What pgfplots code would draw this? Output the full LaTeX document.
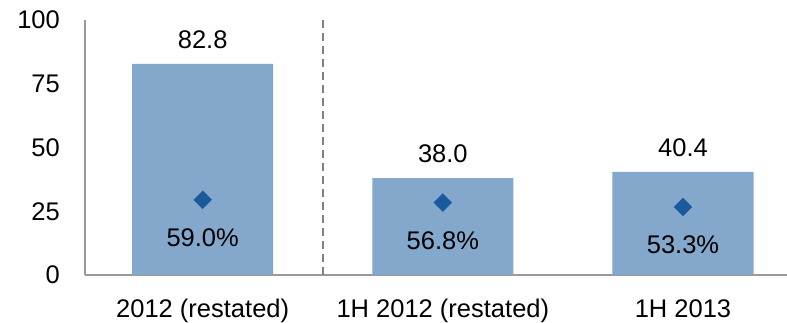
\documentclass[border=0pt]{standalone}
\usepackage{pgfplots}
\pgfplotsset{compat=1.18}
\usepackage{fontspec}
\setmainfont{Liberation Sans}
\definecolor{barblue}{HTML}{84A7CC}
\definecolor{dkblue}{HTML}{1A5A9C}
\definecolor{axgray}{HTML}{9A9A9A}
\definecolor{dashgray}{HTML}{808080}
\begin{document}
\begin{tikzpicture}
\useasboundingbox (0,0) rectangle (787pt,323pt);
\pgfplotsset{
  common/.style={
    at={(85pt,48pt)}, anchor=south west,
    scale only axis, width=702pt, height=255pt,
    xmin=-0.49, xmax=2.433,
    clip=false,
    font=\fontsize{25.5}{30}\selectfont,
    /pgf/number format/assume math mode=true,
  }
}
\begin{axis}[common,
  ymin=0, ymax=100,
  axis x line*=bottom, axis y line*=left,
  axis line style={draw=axgray, line width=1.4pt},
  ytick={0,25,50,75,100},
  xtick={0,1,2},
  xticklabels={2012 (restated),1H 2012 (restated),1H 2013},
  major tick length=0pt,
  yticklabel style={anchor=east, inner sep=0pt, xshift=-25pt},
  xticklabel style={anchor=north, inner sep=0pt, yshift=-24pt},
]
\addplot[ybar, bar width=0.5875, fill=barblue, draw=none,
  nodes near coords={\pgfmathprintnumber[fixed,fixed zerofill,precision=1]{\pgfplotspointmeta}},
  nodes near coords style={anchor=center, yshift=24pt, font=\fontsize{25.5}{30}\selectfont},
] coordinates {(0,82.8) (1,38.0) (2,40.4)};
\addplot[draw=dashgray, dash pattern=on 8pt off 5pt, line width=1.6pt] coordinates {(0.5,0) (0.5,100)};
\end{axis}
\begin{axis}[common, hide axis, ymin=0, ymax=200]
\addplot[only marks, mark=square*, mark size=6.3pt, mark options={rotate=45, fill=dkblue, draw=dkblue},
  nodes near coords={\pgfmathprintnumber[fixed,fixed zerofill,precision=1]{\pgfplotspointmeta}\%},
  nodes near coords style={anchor=center, yshift=-38pt, font=\fontsize{25.5}{30}\selectfont, text=black},
] coordinates {(0,59.0) (1,56.8) (2,53.3)};
\end{axis}
\end{tikzpicture}
\end{document}
